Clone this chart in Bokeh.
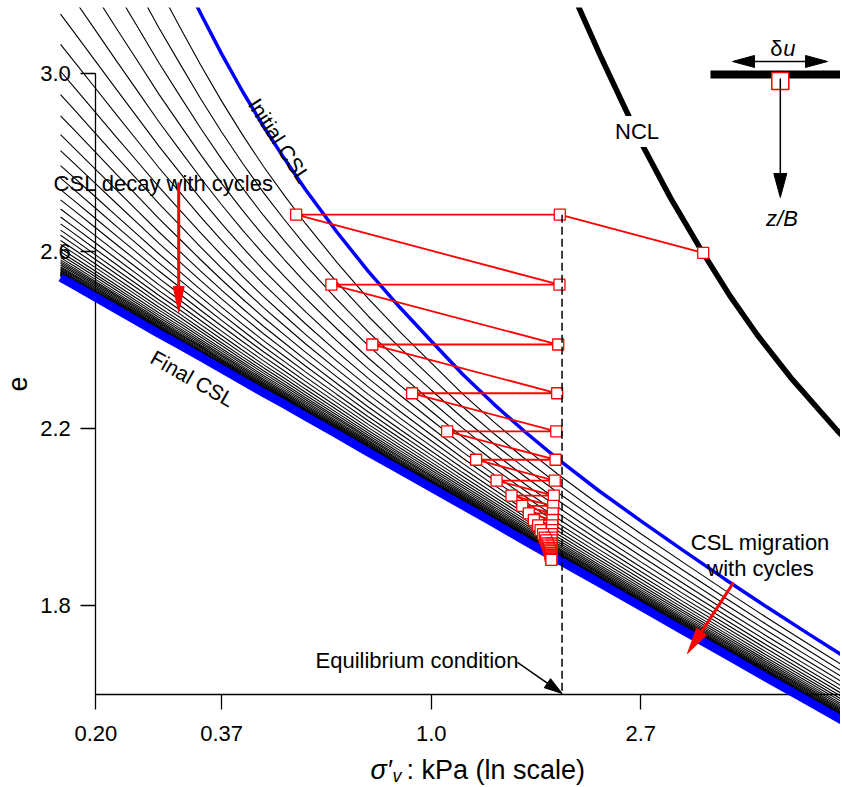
import numpy as np
from bokeh.plotting import figure
from bokeh.models import Range1d, LinearAxis, FixedTicker, Label
from bokeh.embed import file_html
from bokeh.resources import INLINE

FONT = "Liberation Sans"

# ---------------- data ----------------
# stress grid (kPa) on which the critical state lines are sampled
sigma_grid = [0.1706, 0.1827, 0.2019, 0.2231, 0.2466, 0.2725, 0.3012, 0.3329,
              0.3679, 0.4066, 0.4493, 0.4966, 0.5488, 0.6376, 0.7408, 0.8607,
              1.0, 1.1618, 1.3499, 1.5683, 1.8221, 2.2255, 2.7183, 3.3201,
              4.0552, 4.9530, 6.0496, 7.0993]
e_initial_csl = [3.830, 3.757, 3.650, 3.543, 3.438, 3.332, 3.233, 3.136,
                 3.045, 2.960, 2.881, 2.808, 2.739, 2.643, 2.554, 2.473,
                 2.397, 2.322, 2.254, 2.191, 2.132, 2.059, 1.991, 1.925,
                 1.860, 1.797, 1.736, 1.688]
e_final_csl = [2.540, 2.522, 2.495, 2.468, 2.441, 2.414, 2.388, 2.361,
               2.334, 2.307, 2.280, 2.254, 2.227, 2.187, 2.146, 2.106,
               2.066, 2.026, 1.986, 1.945, 1.905, 1.852, 1.798, 1.744,
               1.691, 1.637, 1.584, 1.541]
# relative position of each cycle's CSL between final (0) and initial (1)
cycle_ratio = [0.850, 0.752, 0.666, 0.589, 0.521, 0.461, 0.408, 0.361, 0.320,
               0.283, 0.250, 0.222, 0.196, 0.174, 0.154, 0.136, 0.120, 0.106,
               0.094, 0.083, 0.074, 0.065, 0.058, 0.051, 0.045, 0.040, 0.035,
               0.031, 0.028, 0.025, 0.022, 0.019, 0.017, 0.015, 0.013, 0.012,
               0.010, 0.009, 0.008, 0.007, 0.0064, 0.0057, 0.0050, 0.0045,
               0.0039, 0.0035, 0.0031, 0.0027]
# normal compression line
ncl_sigma = [1.95, 2.022, 2.243, 2.527, 2.737, 3.132, 3.614, 4.170, 4.736,
             5.552, 6.938, 7.10]
ncl_e = [3.190, 3.150, 3.040, 2.920, 2.840, 2.720, 2.605, 2.497, 2.411,
         2.315, 2.195, 2.184]
# cyclic path: start on NCL, then right (equilibrium) / left (CSL) states
start_sigma, start_e = 3.661, 2.596
level_e = [2.682, 2.524, 2.389, 2.279, 2.193, 2.129, 2.082, 2.048, 2.025,
           2.008, 1.993, 1.981, 1.970, 1.961, 1.953, 1.947, 1.940, 1.935,
           1.930, 1.926, 1.922, 1.918, 1.914, 1.911, 1.908, 1.905, 1.903]
right_sigma = [1.847, 1.844, 1.833, 1.824, 1.816, 1.810, 1.803, 1.795, 1.790,
               1.786, 1.784, 1.781, 1.780, 1.778, 1.777, 1.776, 1.776, 1.775,
               1.775, 1.775, 1.775, 1.775, 1.775, 1.775, 1.775, 1.775, 1.775]
left_sigma = [0.525, 0.621, 0.755, 0.913, 1.079, 1.239, 1.366, 1.467, 1.544,
              1.593, 1.632, 1.666, 1.685, 1.705, 1.719, 1.731, 1.740, 1.748,
              1.753, 1.758, 1.763, 1.766, 1.768, 1.770, 1.772, 1.773, 1.774]
eq_sigma = 1.867

x_tick_sigma = [0.2019, 0.3679, 1.0, 2.7183]
x_tick_labels = ["0.20", "0.37", "1.0", "2.7"]
y_ticks = [1.8, 2.2, 2.6, 3.0]
y_tick_labels = ["1.8", "2.2", "2.6", "3.0"]
e_axis_bounds = [1.6, 3.0]

# ---------------- figure ----------------
W, H = 840, 785
BT = 7
X0, X1 = -2.0549, 1.9528
Y0, Y1 = 1.3938, 3.1496
SX = W / (X1 - X0)
SY = (H - BT) / (Y1 - Y0)

p = figure(width=W, height=H, x_range=Range1d(X0, X1), y_range=Range1d(Y0, Y1),
           x_axis_location=None, y_axis_location=None, toolbar_location=None,
           output_backend="svg", min_border_left=0, min_border_right=0,
           min_border_top=BT, min_border_bottom=0, outline_line_color=None,
           background_fill_color="white", border_fill_color="white")
p.grid.visible = False

xg = np.log(np.array(sigma_grid))
ef = np.array(e_final_csl)
ei = np.array(e_initial_csl)

x_ticks = [float(np.round(np.log(s), 3)) for s in x_tick_sigma]
xaxis = LinearAxis(fixed_location=e_axis_bounds[0], bounds=(x_ticks[0], X1),
                   ticker=FixedTicker(ticks=x_ticks),
                   major_label_overrides=dict(zip(x_ticks, x_tick_labels)))
yaxis = LinearAxis(fixed_location=x_ticks[0], bounds=tuple(e_axis_bounds),
                   ticker=FixedTicker(ticks=y_ticks),
                   major_label_overrides=dict(zip(y_ticks, y_tick_labels)))
for ax in (xaxis, yaxis):
    ax.axis_line_color = "black"
    ax.axis_line_width = 1.3
    ax.major_tick_line_color = "black"
    ax.major_tick_line_width = 1.3
    ax.major_tick_out = 15
    ax.major_tick_in = 0
    ax.minor_tick_line_color = None
    ax.major_label_text_font = FONT
    ax.major_label_text_font_size = "22px"
    ax.major_label_text_color = "black"
xaxis.major_label_standoff = 17
yaxis.major_label_standoff = 10
yaxis.axis_label = "e"
yaxis.axis_label_text_font = FONT
yaxis.axis_label_text_font_size = "27px"
yaxis.axis_label_text_font_style = "normal"
yaxis.axis_label_text_color = "black"
yaxis.axis_label_standoff = 10
p.add_layout(xaxis, "below")
p.add_layout(yaxis, "left")

# family of CSLs (one per cycle)
p.multi_line(xs=[list(xg) for _ in cycle_ratio],
             ys=[list(ef + r * (ei - ef)) for r in cycle_ratio],
             line_color="black", line_width=1.1)
p.line(xg, e_initial_csl, line_color="#0000ff", line_width=3.5)
p.line(np.log(ncl_sigma), ncl_e, line_color="black", line_width=5.5,
       line_join="round")
p.line(xg, e_final_csl, line_color="#0000ff", line_width=8.5, level="overlay")

# cyclic path
path_sigma = [start_sigma]
path_e = [start_e]
for s_r, s_l, e in zip(right_sigma, left_sigma, level_e):
    path_sigma += [s_r, s_l]
    path_e += [e, e]
px = np.log(path_sigma)
p.line(px, path_e, line_color="#ff0000", line_width=1.8, level="overlay")
p.scatter(px, path_e, marker="square", size=11, line_color="#ff0000",
          line_width=1.3, fill_color="white", level="overlay")
p.line([np.log(eq_sigma)] * 2, [level_e[0], e_axis_bounds[0]],
       line_color="black", line_width=1.5, line_dash="8 4", level="overlay")


def head(xt, yt, xf, yf, color, L, Wd):
    dx = (xt - xf) * SX
    dy = (yt - yf) * SY
    n = np.hypot(dx, dy)
    ux, uy = dx / n, dy / n
    bx, by = xt - L * ux / SX, yt - L * uy / SY
    ox, oy = -uy * Wd / 2, ux * Wd / 2
    p.patch([xt, bx + ox / SX, bx - ox / SX], [yt, by + oy / SY, by - oy / SY],
            fill_color=color, line_color=color, line_width=1, level="overlay")
    return xt - (L - 2) * ux / SX, yt - (L - 2) * uy / SY


def arrow(x0, y0, x1, y1, color, lw, L, Wd, both=False):
    ex, ey = head(x1, y1, x0, y0, color, L, Wd)
    sx, sy = x0, y0
    if both:
        sx, sy = head(x0, y0, x1, y1, color, L, Wd)
    p.segment(sx, sy, ex, ey, line_color=color, line_width=lw, level="overlay")


arrow(-1.2047, 2.7547, -1.2047, 2.4613, "#ff0000", 3, 26, 11)
arrow(1.4423, 1.8519, 1.2228, 1.6917, "#ff0000", 3, 26, 12)
arrow(0.4117, 1.6716, 0.625, 1.6015, "black", 1.5, 18, 11)

# inset sketch
p.segment(1.3325, 2.9984, 2.05, 2.9984, line_color="black", line_width=8,
          line_cap="butt", level="overlay")
p.scatter([1.6656], [2.9838], marker="square", size=17, line_color="#ff0000",
          line_width=1.5, fill_color="white", level="overlay")
arrow(1.4375, 3.0278, 1.8910, 3.0278, "black", 1.5, 22, 12, both=True)
arrow(1.6656, 2.9894, 1.6656, 2.7208, "black", 1.5, 24, 13)


def lab(x, y, text, size="22px", align="left", baseline="alphabetic",
        style="normal", angle=0.0, bg=None):
    lb = Label(x=x, y=y, text=text, text_font=FONT, text_font_size=size,
               text_align=align, text_baseline=baseline, text_font_style=style,
               text_color="black", angle=angle)
    if bg is not None:
        lb.background_fill_color = bg
        lb.padding = 3
    p.add_layout(lb)


lab(-1.8015, 2.7531, "CSL decay with cycles")
lab(-0.552, 1.6759, "Equilibrium condition")
lab(1.571, 1.9429, "CSL migration", align="center")
lab(1.571, 1.8829, "with cycles", align="center")
lab(0.9819, 2.8698, "NCL", align="center", baseline="middle", bg="white")
lab(-0.7238, 2.8495, "Initial CSL", size="21px", align="center",
    baseline="middle", angle=-0.995)
lab(-1.1388, 2.3123, "Final CSL", size="21px", align="center",
    baseline="middle", angle=-0.515)
lab(1.6761, 3.0564, "δ", align="right")
lab(1.6794, 3.0564, "u", style="italic")
lab(1.6737, 2.6734, "z/B", align="center", style="italic")
# x-axis title
lab(-0.2896, 1.4277, "σ′", size="27px", style="italic")
lab(-0.1846, 1.4142, "v", size="18px", style="italic")
lab(-0.1178, 1.4277, ": kPa (ln scale)", size="27px")

open("out.html", "w").write(file_html(p, INLINE))
